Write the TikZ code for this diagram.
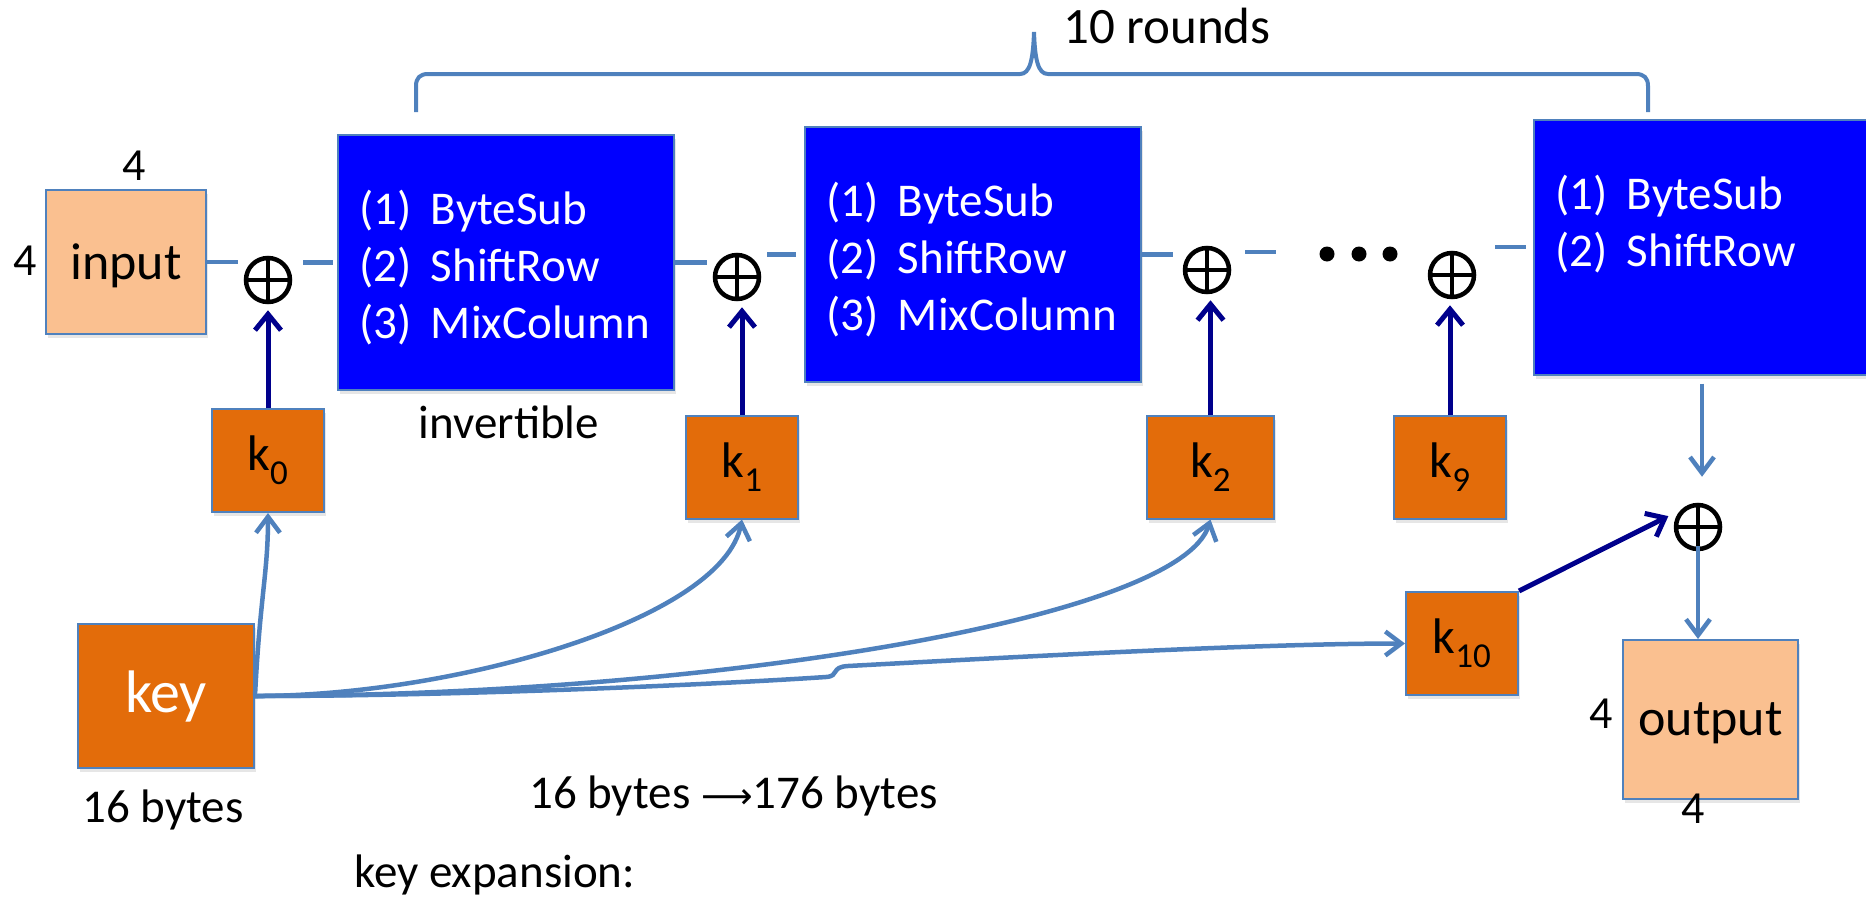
\documentclass[tikz,border=0pt]{standalone}
\usepackage{fontspec}
\setmainfont{Carlito}
\newfontfamily\symf{DejaVu Sans}
\usetikzlibrary{arrows.meta}
\usetikzlibrary{shadows}
\definecolor{rndblue}{RGB}{0,0,255}
\definecolor{lnkblue}{RGB}{79,129,189}
\definecolor{keyorng}{RGB}{227,108,10}
\definecolor{stpeach}{RGB}{250,192,144}
\definecolor{xornavy}{RGB}{0,0,140}
\newcommand{\stp}[2]{\rule{0pt}{45pt}\makebox[72pt][l]{(#1)}#2}
\newcommand{\kk}[1]{k\textsubscript{#1}}

\begin{document}
\begin{tikzpicture}[x=1pt,y=-1pt,
  every node/.style={font=\fontsize{47}{57}\selectfont,inner sep=0pt},
  shd/.style={drop shadow={opacity=0.2,shadow xshift=2pt,shadow yshift=-4pt}},
  rndbox/.style={fill=rndblue,draw=lnkblue,line width=2pt,text=white,shd,
                 minimum width=336pt,minimum height=255pt,
                 text width=294pt,inner xsep=21pt,align=left},
  kbox/.style={fill=keyorng,draw=lnkblue,line width=2pt,shd,
               minimum width=112pt,minimum height=103pt,
               font=\fontsize{50}{60}\selectfont},
  stbox/.style={fill=stpeach,draw=lnkblue,line width=2pt,shd,text depth=0pt,
                font=\fontsize{52}{62}\selectfont},
  xorc/.style={circle,draw=black,line width=4.5pt,minimum size=44pt,
               path picture={\draw[line width=4.5pt]
                 (path picture bounding box.north) -- (path picture bounding box.south)
                 (path picture bounding box.west) -- (path picture bounding box.east);}},
  lnk/.style={draw=lnkblue,line width=4.5pt},
  lnkarr/.style={lnk,-{Straight Barb[length=16pt,width=24pt]}},
  xorarr/.style={draw=xornavy,line width=5pt,-{Straight Barb[length=16pt,width=26pt]}},
  brc/.style={draw=lnkblue,line width=4pt}]

 \useasboundingbox (0,0) rectangle (1866,897);

 \draw (126,262) node[stbox,minimum width=160pt,minimum height=144pt] (inp) {input};
 \draw (1710.5,719.5) node[stbox,minimum width=175pt,minimum height=159pt] (outp) {output};

 \draw (506,262.5) node[rndbox] (b1)
       {\stp{1}{ByteSub}\\ \stp{2}{ShiftRow}\\ \stp{3}{MixColumn}};
 \draw (973,254.5) node[rndbox] (b2)
       {\stp{1}{ByteSub}\\ \stp{2}{ShiftRow}\\ \stp{3}{MixColumn}};
 \draw (1702,247) node[rndbox] (b3)
       {\stp{1}{ByteSub}\\ \stp{2}{ShiftRow}\\ \phantom{(3)}};

 \draw (268,280) node[xorc] (x0) {};
 \draw (737,277) node[xorc] (x1) {};
 \draw (1207,270) node[xorc] (x2) {};
 \draw (1452,275) node[xorc] (x9) {};
 \draw (1698,527) node[xorc] (x10) {};

 \draw (268,460.5) node[kbox] (k0) {\kk{0}};
 \draw (742,467) node[kbox] (k1) {\kk{1}};
 \draw (1210.5,467) node[kbox,minimum width=127pt] (k2) {\kk{2}};
 \draw (1450,467) node[kbox] (k9) {\kk{9}};
 \draw (1462,643.5) node[kbox] (k10) {\kk{10}};
 \draw (166,696) node[kbox,minimum width=176pt,minimum height=144pt,text=white,
                      font=\fontsize{60}{72}\selectfont] (key) {key};

 \draw (134,180) node[anchor=base,font=\fontsize{46}{55}\selectfont] (inpw) {4};
 \draw (25,275) node[anchor=base,font=\fontsize{46}{55}\selectfont] (inph) {4};
 \draw (1601,728) node[anchor=base,font=\fontsize{46}{55}\selectfont] (outph) {4};
 \draw (1693,823) node[anchor=base,font=\fontsize{46}{55}\selectfont] (outpw) {4};
 \draw (1063,43) node[anchor=base west,font=\fontsize{51}{61}\selectfont] (nrnd) {10 rounds};
 \draw (509,438) node[anchor=base] (inv) {invertible};
 \draw (163,822) node[anchor=base] (keysz) {16 bytes};
 \draw (529,808) node[anchor=base west] (expsz)
       {16 bytes {\symf\fontsize{36}{40}\selectfont ⟶}176 bytes};
 \draw (354,887) node[anchor=base west] (expn) {key expansion:};

 \coordinate (d2) at (1276,252);
 \foreach \dx in {1327,1359,1390}
   \fill (\dx,254) circle (7.5pt);

 \draw[brc] (416,112) -- (416,86) .. controls (416,78) and (420,74) .. (428,74)
   -- (1020,74) .. controls (1030,74) and (1033,60) .. (1034,32)
   .. controls (1035,60) and (1038,74) .. (1048,74) -- (1636,74)
   .. controls (1644,74) and (1648,78) .. (1648,86) -- (1648,112);

 \draw[lnk,shorten >=6pt] (inp.east) -- (inp.east -| x0.west);
 \draw[lnk,shorten <=11pt,shorten >=4pt] (x0.east |- b1.west) -- (b1.west);
 \draw[lnk,shorten >=6pt] (b1.east) -- (b1.east -| x1.west);
 \draw[lnk,shorten <=6pt,shorten >=8pt] (x1.east |- b2.west) -- (b2.west);
 \draw[lnk,shorten >=10pt] (b2.east) -- (b2.east -| x2.west);
 \draw[lnk,shorten <=14pt] (x2.east |- d2) -- (d2);
 \draw[lnk,shorten <=19pt,shorten >=7pt] (x9.east |- b3.west) -- (b3.west);

 \draw[xorarr,shorten >=6pt] (k0.north) -- (k0.north |- x0.south);
 \draw[xorarr,shorten >=6pt] (k1.north) -- (k1.north |- x1.south);
 \draw[xorarr,shorten >=6pt] (k2.north) -- (k2.north |- x2.south);
 \draw[xorarr,shorten >=6pt] (k9.north) -- (k9.north |- x9.south);
 \draw[xorarr,shorten >=14pt] (k10.north east) -- (x10.135);

 \draw[lnkarr,shorten <=8pt,shorten >=26pt] (b3.south) -- (b3.south |- x10.north);
 \draw[lnkarr,shorten <=19pt] (x10.center) -- (x10.center |- outp.north);

 \draw[lnkarr] (key.east) .. controls +(5,-100) and +(0,60) .. (k0.south);
 \draw[lnkarr] (key.east) .. controls +(200,0) and +(-20,100) .. (k1.south);
 \draw[lnkarr] (key.east) .. controls +(450,0) and +(-30,100) .. (k2.south);
 \draw[lnkarr] (key.east) .. controls +(200,0) and +(-120,8) .. (826,677)
   .. controls +(14,-1) and +(-18,1) .. (848,666)
   .. controls +(150,-8) and +(-150,0) .. (k10.west);

\end{tikzpicture}
\end{document}
